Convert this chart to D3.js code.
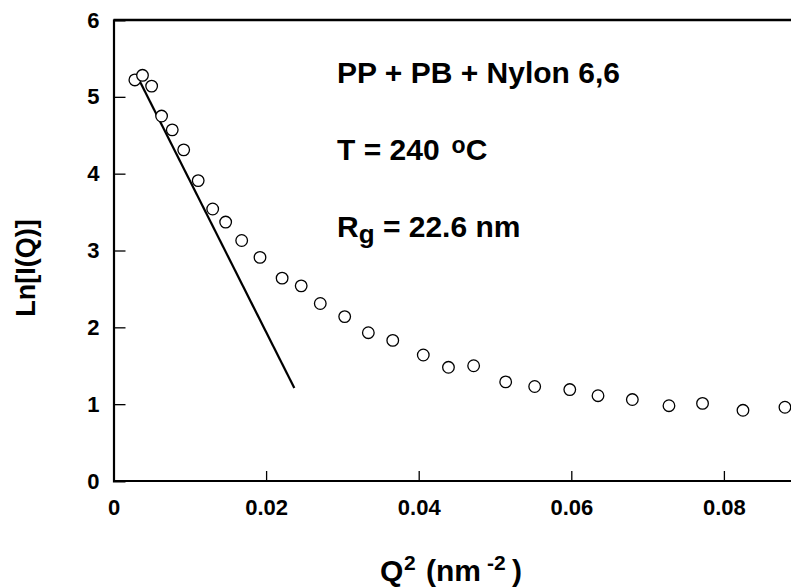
<!DOCTYPE html>
<html>
<head>
<meta charset="utf-8">
<script src="https://cdn.jsdelivr.net/npm/d3@7"></script>
<style>
  body { margin: 0; background: #fff; }
  svg { display: block; font-family: "Liberation Sans", Arial, sans-serif; font-weight: bold; }
</style>
</head>
<body>
<svg id="chart"></svg>
<script>
// Guinier plot data
const q2Values   = [0.0028, 0.0038, 0.0050, 0.0063, 0.0077, 0.0092, 0.0111, 0.0130, 0.0147, 0.0168, 0.0192,
                    0.0221, 0.0246, 0.0271, 0.0303, 0.0334, 0.0366, 0.0406, 0.0439, 0.0472, 0.0514, 0.0552,
                    0.0598, 0.0635, 0.0680, 0.0728, 0.0772, 0.0825, 0.0880];
const lnIValues  = [5.22, 5.28, 5.14, 4.75, 4.57, 4.31, 3.91, 3.54, 3.37, 3.13, 2.91,
                    2.64, 2.54, 2.31, 2.14, 1.93, 1.83, 1.64, 1.48, 1.50, 1.29, 1.23,
                    1.19, 1.11, 1.06, 0.98, 1.01, 0.92, 0.96];
const fitQ2      = [0.0030, 0.0237];
const fitLnI     = [5.29, 1.21];
const xTicks     = [0, 0.02, 0.04, 0.06, 0.08];
const yTicks     = [0, 1, 2, 3, 4, 5, 6];

const W = 791, H = 588;
const svg = d3.select("#chart").attr("width", W).attr("height", H);

const x = d3.scaleLinear().domain([0, 0.09]).range([113.5, 113.5 + 0.09 * 7630]);
const y = d3.scaleLinear().domain([0, 6]).range([481, 20]);

// axes
const xAxis = svg.append("g").attr("transform", `translate(0,${y(0)})`)
  .call(d3.axisBottom(x).tickValues(xTicks).tickSize(-10).tickPadding(18).tickFormat(d => d === 0 ? "0" : d3.format(".2f")(d)));
const yAxis = svg.append("g").attr("transform", `translate(${x(0)},0)`)
  .call(d3.axisLeft(y).tickValues(yTicks).tickSize(-12).tickPadding(14).tickFormat(d3.format("d")));

[xAxis, yAxis].forEach(g => {
  g.select(".domain").attr("stroke", "#000").attr("stroke-width", 2.2);
  g.selectAll(".tick line").attr("stroke", "#000").attr("stroke-width", 1.3);
  g.selectAll(".tick text").attr("fill", "#000").style("font-size", "22px").style("font-weight", "bold");
});
xAxis.select(".domain").attr("d", `M${x(0)},0H${W + 5}`);
xAxis.selectAll(".tick").filter(d => d === 0).select("line").remove();
yAxis.selectAll(".tick").filter(d => d === 0 || d === 6).select("line").remove();

// top frame line
svg.append("line").attr("x1", x(0)).attr("x2", W + 5).attr("y1", y(6)).attr("y2", y(6))
  .attr("stroke", "#000").attr("stroke-width", 2.4);

// fit line
svg.append("line")
  .attr("x1", x(fitQ2[0])).attr("y1", y(fitLnI[0]))
  .attr("x2", x(fitQ2[1])).attr("y2", y(fitLnI[1]))
  .attr("stroke", "#000").attr("stroke-width", 2.2);

// data points
svg.append("g").selectAll("circle").data(q2Values).join("circle")
  .attr("cx", d => x(d)).attr("cy", (d, i) => y(lnIValues[i])).attr("r", 5.8)
  .attr("fill", "#fff").attr("stroke", "#000").attr("stroke-width", 1.3);

// annotations
const ann = svg.append("g").style("font-size", "30px");
ann.append("text").attr("x", 337).attr("y", 83).text("PP + PB + Nylon 6,6");
const t2 = ann.append("text").attr("x", 337).attr("y", 160);
t2.append("tspan").text("T = 240");
t2.append("tspan").attr("dx", 12).attr("dy", -7).style("font-size", "23px").text("o");
t2.append("tspan").attr("dy", 7).text("C");
const t3 = ann.append("text").attr("x", 337).attr("y", 237);
t3.append("tspan").text("R");
t3.append("tspan").attr("dy", 6).style("font-size", "26px").text("g");
t3.append("tspan").attr("dy", -6).text(" = 22.6 nm");

// axis titles
const xl = svg.append("text").attr("y", 581).style("font-size", "30px");
xl.append("tspan").attr("x", 380).text("Q");
xl.append("tspan").attr("x", 404).attr("dy", -11).style("font-size", "21px").text("2");
xl.append("tspan").attr("x", 426).attr("dy", 11).text("(nm");
xl.append("tspan").attr("x", 487).attr("dy", -11).style("font-size", "21px").text("-2");
xl.append("tspan").attr("x", 512).attr("dy", 11).text(")");

svg.append("text").attr("transform", "translate(35,268) rotate(-90)")
  .attr("text-anchor", "middle").style("font-size", "27px").text("Ln[I(Q)]");
</script>
</body>
</html>
